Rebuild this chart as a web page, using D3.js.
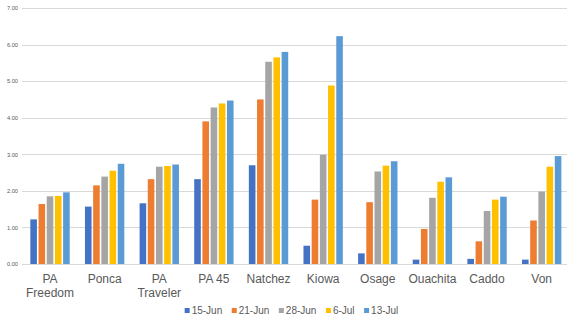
<!DOCTYPE html>
<html><head><meta charset="utf-8">
<script src="https://cdn.jsdelivr.net/npm/d3@7"></script>
<style>body{margin:0;background:#fff;}svg{display:block;font-family:"Liberation Sans",Arial,sans-serif;}</style>
</head><body>
<script>
const categories = ["PA Freedom","Ponca","PA Traveler","PA 45","Natchez","Kiowa","Osage","Ouachita","Caddo","Von"];
const seriesNames = ["15-Jun","21-Jun","28-Jun","6-Jul","13-Jul"];
const colors = ["#4472C4","#ED7D31","#A5A5A5","#FFC000","#5B9BD5"];
const s15Jun = [1.22,1.57,1.66,2.32,2.70,0.50,0.29,0.12,0.14,0.12];
const s21Jun = [1.64,2.15,2.32,3.90,4.50,1.76,1.69,0.96,0.62,1.19];
const s28Jun = [1.85,2.39,2.66,4.28,5.53,2.99,2.53,1.81,1.45,1.98];
const s6Jul  = [1.86,2.55,2.68,4.39,5.65,4.88,2.69,2.25,1.76,2.66];
const s13Jul = [1.96,2.74,2.72,4.47,5.80,6.23,2.81,2.37,1.84,2.95];
const yTicks = [0,1,2,3,4,5,6,7];

const series = [s15Jun,s21Jun,s28Jun,s6Jul,s13Jul];
const W = 567, H = 322;
const svg = d3.select("body").append("svg").attr("width",W).attr("height",H);

const x = d3.scaleBand().domain(categories).range([22.7,569]).paddingInner(0.25).paddingOuter(0.125);
const xs = d3.scaleBand().domain(seriesNames).range([0,x.bandwidth()]);
const y = d3.scaleLinear().domain([0,7]).range([264,8]);

// gridlines
svg.append("g").selectAll("line").data(yTicks).join("line")
  .attr("x1",22).attr("x2",567)
  .attr("y1",d=>Math.round(y(d))+0.5).attr("y2",d=>Math.round(y(d))+0.5)
  .attr("stroke","#D9D9D9").attr("stroke-width",1);

// y axis labels
const yAxis = d3.axisLeft(y).tickValues(yTicks).tickFormat(d3.format(".2f")).tickSize(0).tickPadding(0);
const ya = svg.append("g").attr("transform","translate(18,0)").call(yAxis);
ya.select(".domain").remove();
ya.selectAll("text").attr("font-size","5.7px").attr("fill","#595959").attr("font-family","Liberation Sans, Arial, sans-serif");

// bars
series.forEach((vals,si)=>{
  svg.append("g").selectAll("rect").data(vals).join("rect")
    .attr("x",(d,i)=>x(categories[i])+xs(seriesNames[si])+0.8)
    .attr("width",xs.bandwidth()-1.6)
    .attr("y",d=>y(d))
    .attr("height",d=>y(0)-y(d))
    .attr("fill",colors[si]);
});

// x labels with wrap
const xl = svg.append("g");
categories.forEach(c=>{
  const cx = x(c)+x.bandwidth()/2;
  const t = xl.append("text").attr("x",cx).attr("y",283).attr("text-anchor","middle")
    .attr("font-size","12px").attr("fill","#595959").text(c);
  const maxW = x.step();
  if (t.node().getComputedTextLength() > maxW) {
    const words = c.split(" ");
    t.text(null);
    words.forEach((w,i)=>{
      t.append("tspan").attr("x",cx).attr("dy",i===0?0:14).text(w);
    });
  }
});

// legend
const lg = svg.append("g");
let lx = 0;
const items = [];
seriesNames.forEach((n,i)=>{
  const g = lg.append("g");
  g.append("rect").attr("x",lx).attr("y",-2.5).attr("width",5).attr("height",5).attr("fill",colors[i]);
  const t = g.append("text").attr("x",lx+7).attr("y",3.6).attr("font-size","10px").attr("fill","#595959").text(n);
  lx += 7 + t.node().getComputedTextLength() + 9.5;
});
const totalW = lx - 9.5;
lg.attr("transform",`translate(${291.5-totalW/2},310.5)`);
</script>
</body></html>
